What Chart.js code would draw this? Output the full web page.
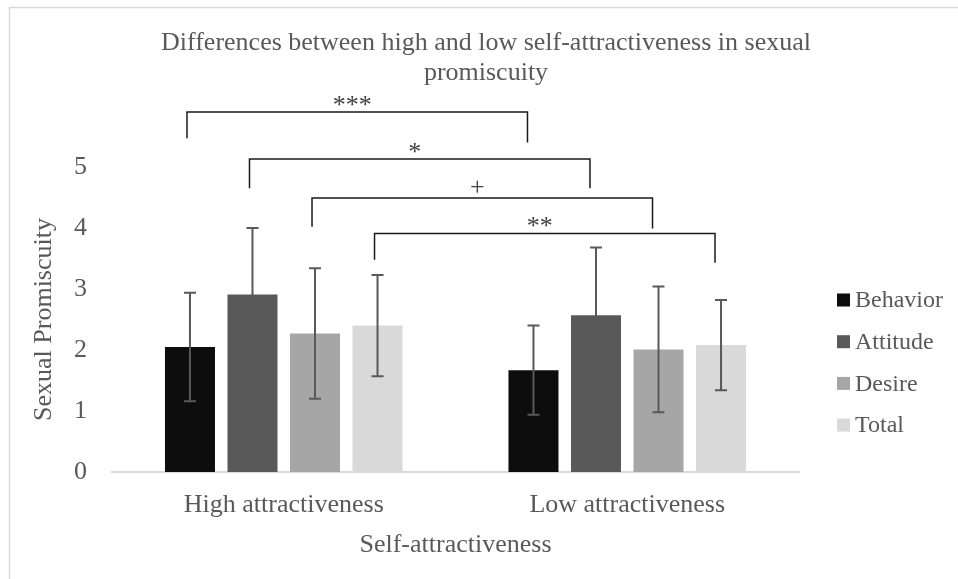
<!DOCTYPE html>
<html>
<head>
<meta charset="utf-8">
<script src="https://cdn.jsdelivr.net/npm/chart.js@4.4.1/dist/chart.umd.min.js"></script>
<style>
  html, body { margin: 0; padding: 0; background: #fff; }
  #wrap { position: relative; width: 958px; height: 579px; }
</style>
</head>
<body>
<div id="wrap"><canvas id="myChart" width="958" height="579"></canvas></div>
<script>
// chart values
const categories = ['High attractiveness', 'Low attractiveness'];
const seriesNames = ['Behavior', 'Attitude', 'Desire', 'Total'];
const behavior = [2.05, 1.67];
const attitude = [2.91, 2.57];
const desire = [2.27, 2.01];
const total = [2.40, 2.08];
const behaviorSd = [0.89, 0.73];
const attitudeSd = [1.09, 1.11];
const desireSd = [1.07, 1.03];
const totalSd = [0.83, 0.74];
const yTicks = [0, 1, 2, 3, 4, 5];

// significance brackets, one per series (high vs low)
const sigLabels = ['***', '*', '+', '**'];
const sigTop = [5.90, 5.13, 4.49, 3.91];
const sigLeftEnd = [5.47, 4.65, 4.02, 3.48];
const sigRightEnd = [5.40, 4.65, 3.99, 3.43];

const colors = ['#0d0d0d', '#595959', '#a6a6a6', '#d9d9d9'];
const textColor = '#595959';
const serif = "'Liberation Serif', 'Times New Roman', serif";

const values = [behavior, attitude, desire, total];
const sds = [behaviorSd, attitudeSd, desireSd, totalSd];

const datasets = seriesNames.map((name, i) => ({
  label: name,
  data: values[i],
  sd: sds[i],
  backgroundColor: colors[i],
  borderWidth: 0,
  barPercentage: 0.8,
  categoryPercentage: 0.728
}));

// frame of the original picture
const framePlugin = {
  id: 'frame',
  beforeDraw(chart) {
    const ctx = chart.ctx;
    ctx.save();
    ctx.fillStyle = '#fff';
    ctx.fillRect(0, 0, chart.width, chart.height);
    ctx.strokeStyle = '#d9d9d9';
    ctx.lineWidth = 1.5;
    ctx.beginPath();
    ctx.moveTo(9.5, chart.height);
    ctx.lineTo(9.5, 7.5);
    ctx.lineTo(chart.width, 7.5);
    ctx.stroke();
    ctx.restore();
  }
};

// error bars (± sd)
const errorBarPlugin = {
  id: 'errorBars',
  afterDatasetsDraw(chart) {
    const ctx = chart.ctx;
    const y = chart.scales.y;
    ctx.save();
    ctx.strokeStyle = '#595959';
    ctx.lineWidth = 2;
    chart.data.datasets.forEach((ds, i) => {
      chart.getDatasetMeta(i).data.forEach((bar, j) => {
        const top = y.getPixelForValue(ds.data[j] + ds.sd[j]);
        const bottom = y.getPixelForValue(ds.data[j] - ds.sd[j]);
        ctx.beginPath();
        ctx.moveTo(bar.x, top);
        ctx.lineTo(bar.x, bottom);
        ctx.moveTo(bar.x - 6, top);
        ctx.lineTo(bar.x + 6, top);
        ctx.moveTo(bar.x - 6, bottom);
        ctx.lineTo(bar.x + 6, bottom);
        ctx.stroke();
      });
    });
    ctx.restore();
  }
};

// significance brackets
const bracketPlugin = {
  id: 'brackets',
  afterDraw(chart) {
    const ctx = chart.ctx;
    const y = chart.scales.y;
    ctx.save();
    ctx.strokeStyle = '#1a1a1a';
    ctx.lineWidth = 1.5;
    ctx.fillStyle = '#404040';
    ctx.font = '26px ' + serif;
    ctx.textAlign = 'center';
    ctx.textBaseline = 'alphabetic';
    sigLabels.forEach((lab, i) => {
      const meta = chart.getDatasetMeta(i);
      const x1 = meta.data[0].x - 3;
      const x2 = meta.data[1].x - 6;
      const yt = y.getPixelForValue(sigTop[i]);
      ctx.beginPath();
      ctx.moveTo(x1, y.getPixelForValue(sigLeftEnd[i]));
      ctx.lineTo(x1, yt);
      ctx.lineTo(x2, yt);
      ctx.lineTo(x2, y.getPixelForValue(sigRightEnd[i]));
      ctx.stroke();
      ctx.fillText(lab, (x1 + x2) / 2 - 5, yt + (lab === '+' ? -3 : 1));
    });
    ctx.restore();
  }
};

// legend at the right
const legendPlugin = {
  id: 'sideLegend',
  afterDraw(chart) {
    const ctx = chart.ctx;
    const area = chart.chartArea;
    ctx.save();
    ctx.font = '24px ' + serif;
    ctx.textBaseline = 'middle';
    ctx.textAlign = 'left';
    chart.data.datasets.forEach((ds, i) => {
      const cy = area.top + 133 + i * 41.7;
      const bx = area.right + 38;
      ctx.fillStyle = ds.backgroundColor;
      ctx.fillRect(bx, cy - 6.5, 13, 13);
      ctx.fillStyle = textColor;
      ctx.fillText(ds.label, bx + 18, cy + 1);
    });
    ctx.restore();
  }
};

const config = {
  type: 'bar',
  data: { labels: categories, datasets: datasets },
  options: {
    responsive: false,
    animation: false,
    layout: { padding: { left: 14, right: 0, top: 0, bottom: 9.6 } },
    plugins: {
      legend: { display: false },
      tooltip: { enabled: false },
      title: {
        display: true,
        text: ['Differences between high and low self-attractiveness in sexual', 'promiscuity'],
        color: textColor,
        font: { family: serif, size: 26, weight: 'normal', lineHeight: 1.15 },
        padding: { top: 28, bottom: 79.2 }
      }
    },
    scales: {
      x: {
        grid: { display: false, drawTicks: false },
        border: { display: true, color: '#d9d9d9', width: 2 },
        ticks: { color: textColor, font: { family: serif, size: 26 }, padding: 18, maxRotation: 0 },
        title: {
          display: true,
          text: 'Self-attractiveness',
          color: textColor,
          font: { family: serif, size: 26 },
          padding: { top: 8.8, bottom: 8.8 }
        },
        afterFit(scale) { scale.height = 97.4; }
      },
      y: {
        min: 0,
        max: 5,
        afterBuildTicks(scale) { scale.ticks = yTicks.map(v => ({ value: v })); },
        grid: { display: false, drawTicks: false },
        border: { display: false },
        ticks: { color: textColor, font: { family: serif, size: 26 }, padding: 25 },
        title: {
          display: true,
          text: 'Sexual Promiscuity',
          color: textColor,
          font: { family: serif, size: 26 },
          padding: { top: 14.4, bottom: 14.4 }
        },
        afterFit(scale) { scale.width = 98; }
      },
      // empty right-hand box that leaves room for the legend
      side: {
        type: 'linear',
        position: 'right',
        display: true,
        grid: { display: false, drawTicks: false },
        border: { display: false },
        ticks: { display: false },
        afterFit(scale) { scale.width = 159; }
      }
    }
  },
  plugins: [framePlugin, errorBarPlugin, bracketPlugin, legendPlugin]
};

new Chart('myChart', config);
</script>
</body>
</html>
